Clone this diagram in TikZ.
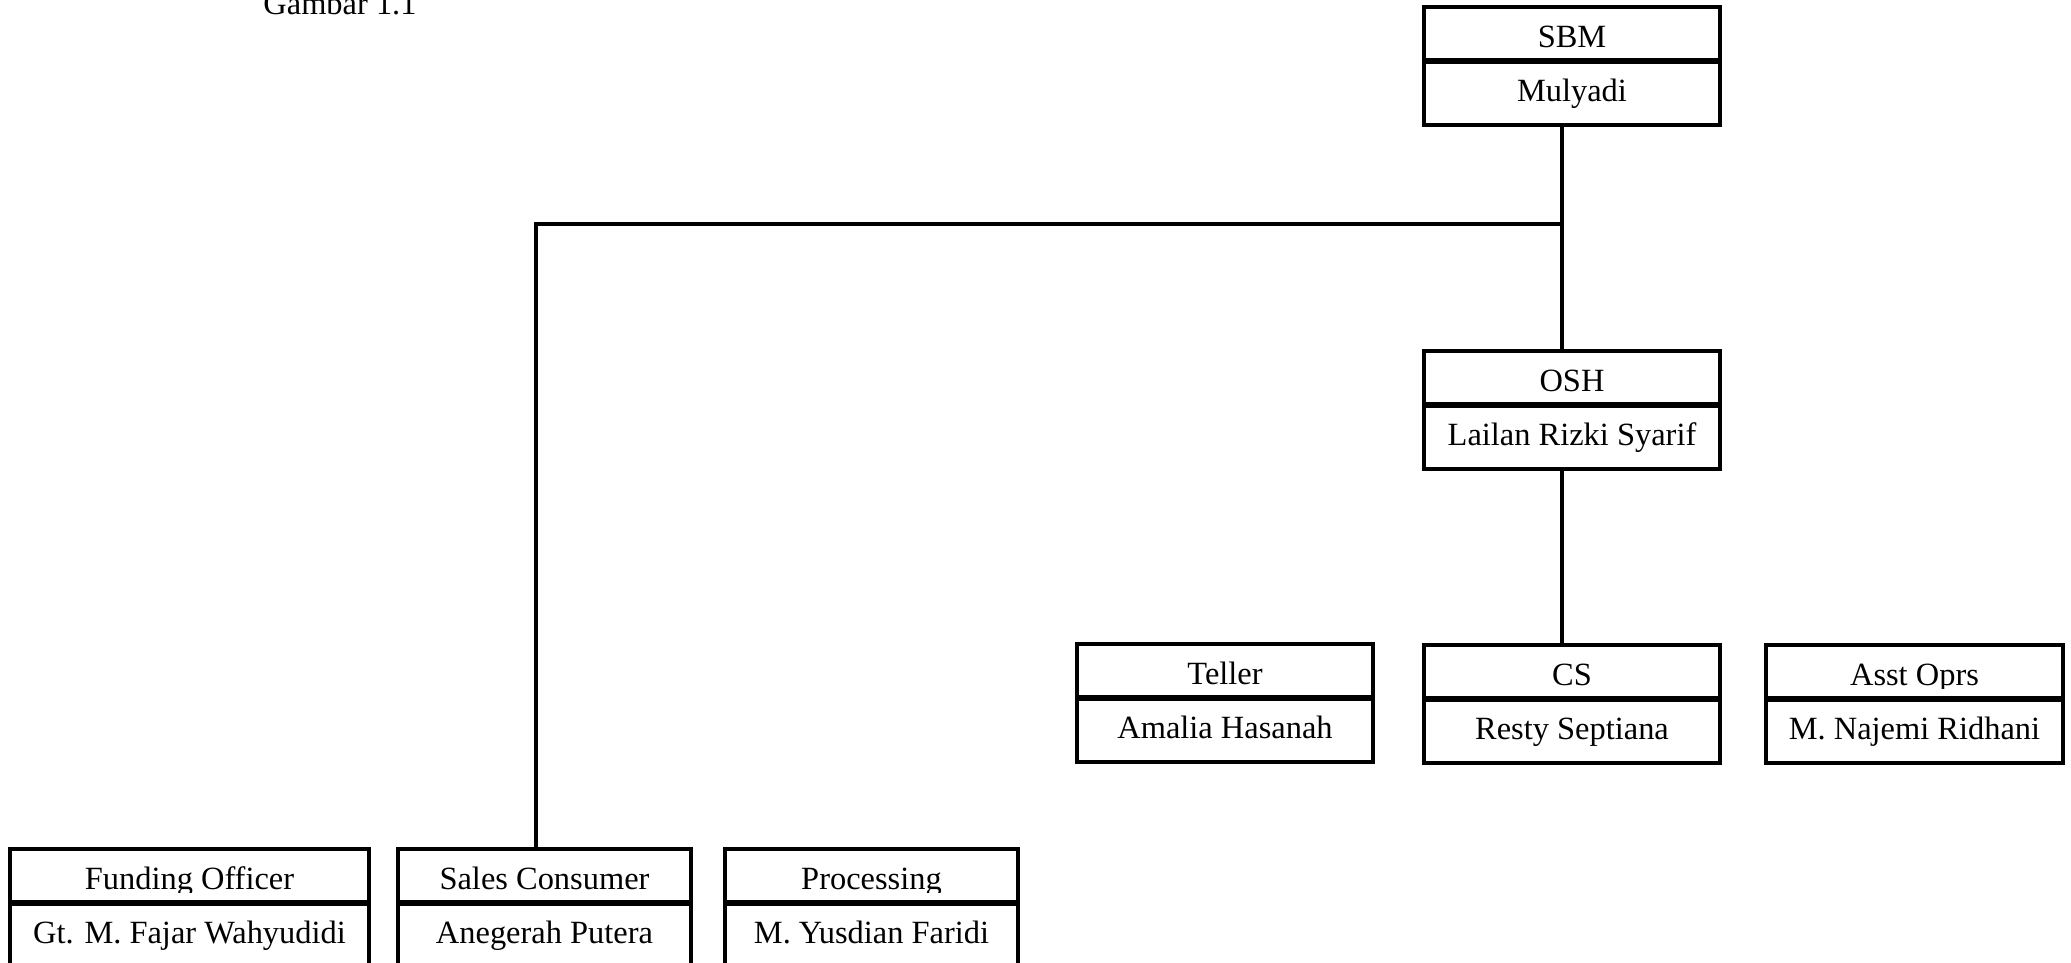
\documentclass[tikz,border=0pt]{standalone}
\usepackage{fontspec}
\setmainfont{Liberation Serif}
\begin{document}
\begin{tikzpicture}[x=0.37pt, y=-0.37pt,
        box/.style={draw, line width=1.4pt, minimum height=118*0.37pt, inner sep=0pt},
        post/.style={anchor=base, inner sep=0pt, font=\fontsize{12}{14}\selectfont},
        divider/.style={line width=2.2pt},
        link/.style={line width=1.4pt}]
        \useasboundingbox (0,0) rectangle (2071,963);

        \node [post] (caption) at (340,15) {Gambar 1.1};

        % frames
        \node [box, minimum width=296*0.37pt] (sbm) at (1572,66) {};
        \node [box, minimum width=296*0.37pt] (osh) at (1572,410) {};
        \node [box, minimum width=296*0.37pt] (teller) at (1225,703) {};
        \node [box, minimum width=296*0.37pt] (cs) at (1572,704) {};
        \node [box, minimum width=297*0.37pt] (asst) at (1914.5,704) {};
        \node [box, minimum width=359*0.37pt] (funding) at (189.5,908) {};
        \node [box, minimum width=293*0.37pt] (sales) at (544.5,908) {};
        \node [box, minimum width=293*0.37pt] (proc) at (871.5,908) {};

        \draw [divider] (sbm.west |- 0,61) -- (sbm.east |- 0,61);
        \draw [divider] (osh.west |- 0,405) -- (osh.east |- 0,405);
        \draw [divider] (teller.west |- 0,698) -- (teller.east |- 0,698);
        \draw [divider] (cs.west |- 0,699) -- (cs.east |- 0,699);
        \draw [divider] (asst.west |- 0,699) -- (asst.east |- 0,699);
        \draw [divider] (funding.west |- 0,903) -- (funding.east |- 0,903);
        \draw [divider] (sales.west |- 0,903) -- (sales.east |- 0,903);
        \draw [divider] (proc.west |- 0,903) -- (proc.east |- 0,903);

        % posts
        \node [post] (sbm-post) at (1572,48) {SBM};
        \node [post] (osh-post) at (1572,392) {OSH};
        \node [post] (teller-post) at (1225,685) {Teller};
        \node [post] (cs-post) at (1572,686) {CS};
        \node [post] (sales-post) at (544.5,890) {Sales Consumer};
        \begin{scope}
            \clip (1766,645) rectangle (2063,689) (10,849) rectangle (369,893) (725,849) rectangle (1018,893);
            \node [post] (asst-post) at (1914.5,686) {Asst Oprs};
            \node [post] (funding-post) at (189.5,890) {Funding Officer};
            \node [post] (proc-post) at (871.5,890) {Processing};
        \end{scope}

        % names
        \node [post] (sbm-name) at (1572,102) {Mulyadi};
        \node [post] (osh-name) at (1572,446) {Lailan Rizki Syarif};
        \node [post] (teller-name) at (1225,739) {Amalia Hasanah};
        \node [post] (cs-name) at (1572,740) {Resty Septiana};
        \node [post] (asst-name) at (1914.5,740) {M. Najemi Ridhani};
        \node [post] (funding-name) at (189.5,944) {Gt. M. Fajar Wahyudidi};
        \node [post] (sales-name) at (544.5,944) {Anegerah Putera};
        \node [post] (proc-name) at (871.5,944) {M. Yusdian Faridi};

        % lines
        \coordinate (fork) at (1562,224);
        \coordinate (bend) at (536,224);
        \draw [link] (sbm.south -| fork) -- (osh.north -| fork);
        \draw [link] (fork) -- (bend) -- (bend |- sales.north);
        \draw [link] (osh.south -| fork) -- (cs.north -| fork);
    \end{tikzpicture}
\end{document}
